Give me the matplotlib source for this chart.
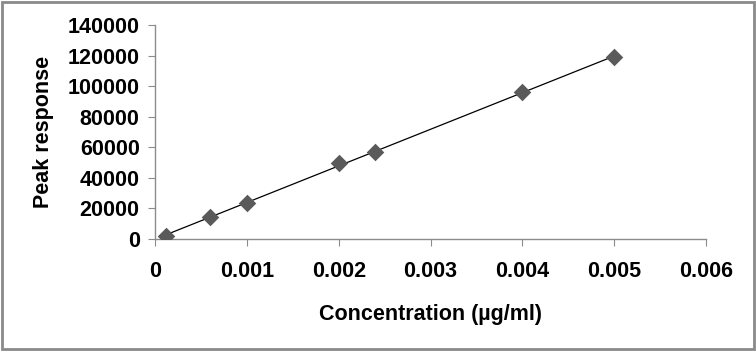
import numpy as np
import matplotlib
matplotlib.use("Agg")
import matplotlib.pyplot as plt
from matplotlib.patches import Rectangle

# ── data ─────────────────────────────────────────────────────────────────────
concentration = [0.00012, 0.0006, 0.001, 0.002, 0.0024, 0.004, 0.005]
peak_response = [2000, 14500, 23500, 49500, 57000, 96000, 119000]

x_ticks = [0, 0.001, 0.002, 0.003, 0.004, 0.005, 0.006]
x_labels = ["0", "0.001", "0.002", "0.003", "0.004", "0.005", "0.006"]
y_ticks = [0, 20000, 40000, 60000, 80000, 100000, 120000, 140000]

plt.rcParams["font.family"] = ["Liberation Sans", "DejaVu Sans"]
plt.rcParams["font.weight"] = "bold"

fig = plt.figure(figsize=(7.56, 3.51), dpi=100)
ax = fig.add_axes([0.205, 0.319, 0.729, 0.610])

# linear trendline through the points
slope, intercept = np.polyfit(concentration, peak_response, 1)
xs = np.array([concentration[0], concentration[-1]])
ax.plot(xs, slope * xs + intercept, color="black", lw=0.9, zorder=2)
ax.scatter(concentration, peak_response, marker="D", s=80, color="#5a5a5a",
           zorder=3, linewidths=0)

ax.set_xlim(0, 0.006)
ax.set_ylim(0, 140000)
ax.set_xticks(x_ticks)
ax.set_xticklabels(x_labels)
ax.set_yticks(y_ticks)
ax.set_yticklabels([str(v) for v in y_ticks])

for side in ["top", "right"]:
    ax.spines[side].set_visible(False)
for side in ["left", "bottom"]:
    ax.spines[side].set_color("#8c8c8c")
    ax.spines[side].set_linewidth(1.0)
ax.tick_params(direction="out", length=5, color="#8c8c8c", labelsize=15.5,
               pad=6)
ax.tick_params(axis="x", pad=11)
for lbl in ax.get_xticklabels() + ax.get_yticklabels():
    lbl.set_fontweight("bold")

ax.set_xlabel("Concentration (µg/ml)", fontsize=15.5, fontweight="bold",
              labelpad=16)
ax.set_ylabel("Peak response", fontsize=15.5, fontweight="bold", labelpad=10)

# grey frame round the whole chart
fig.patches.append(Rectangle((0.003, 0.006), 0.994, 0.988,
                             transform=fig.transFigure, fill=False,
                             edgecolor="#8a8a8a", lw=2))

plt.savefig("out.png", dpi=100)
